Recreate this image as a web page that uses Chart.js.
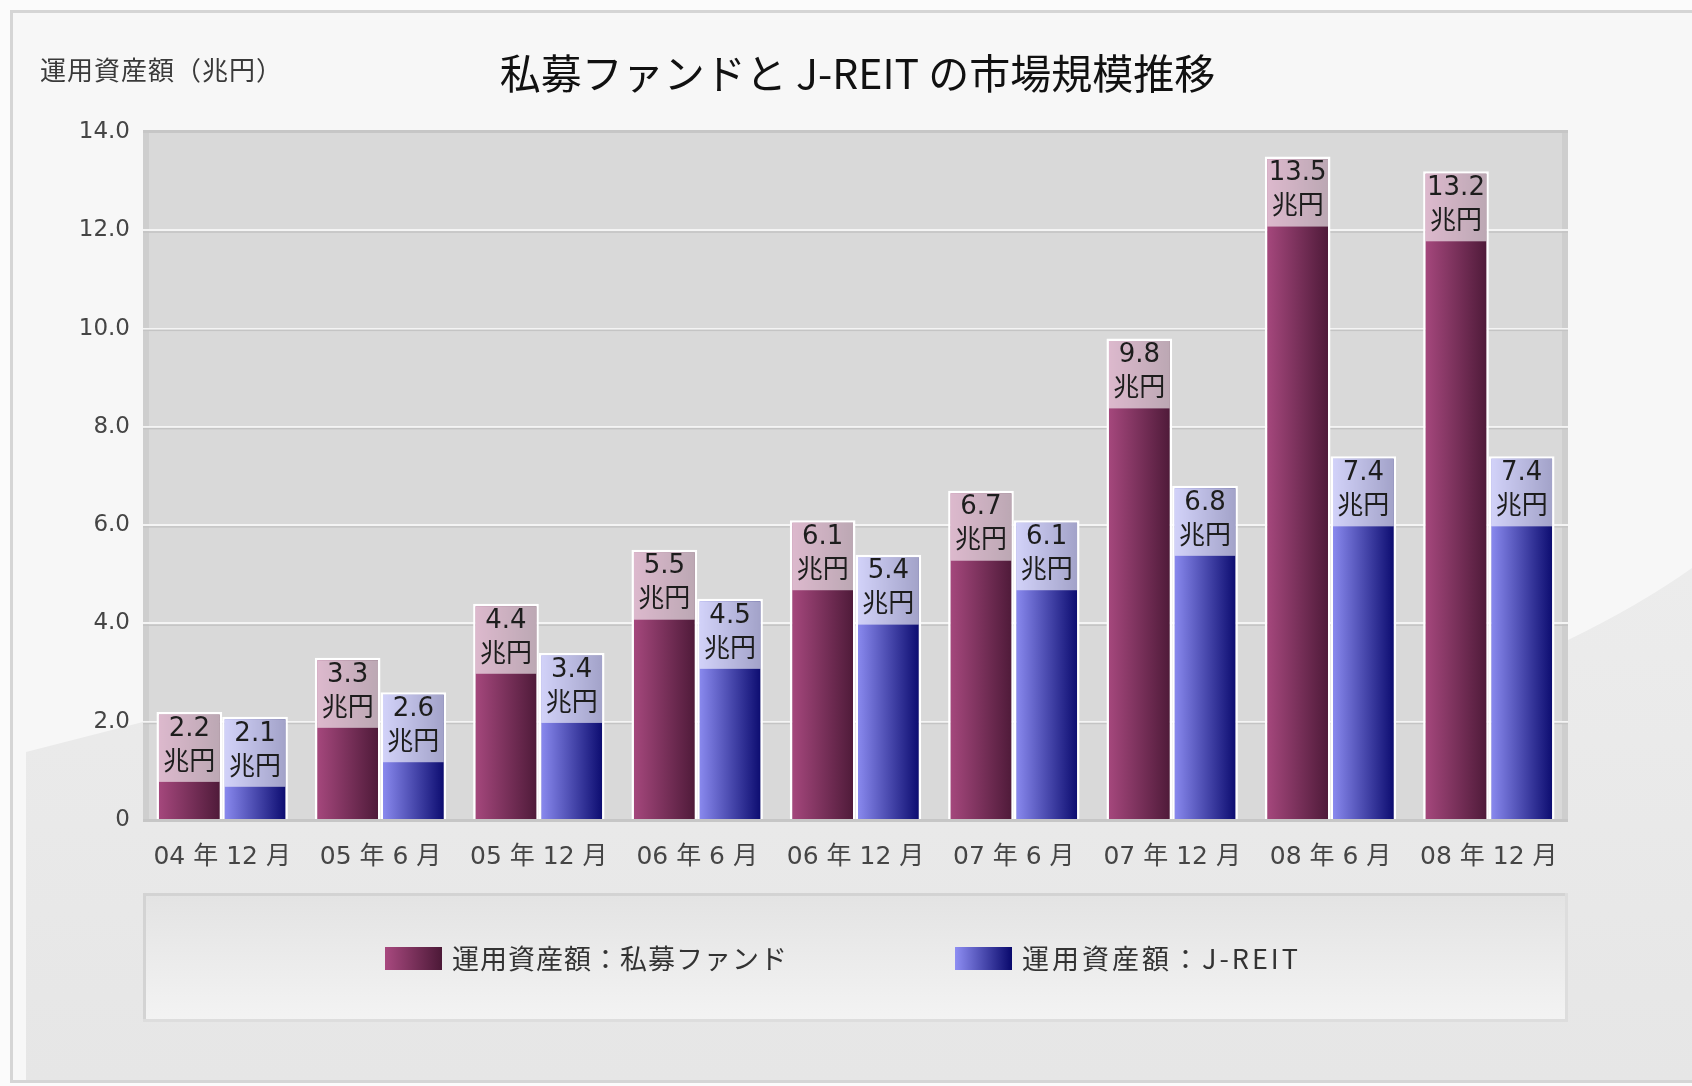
<!DOCTYPE html>
<html lang="ja">
<head>
<meta charset="UTF-8">
<title>私募ファンドとJ-REITの市場規模推移</title>
<script src="https://cdn.jsdelivr.net/npm/chart.js"></script>
<style>
    html, body { margin: 0; padding: 0; background: #fcfcfc; }
    canvas { display: block; }
</style>
</head>
<body>
<canvas id="marketChart" width="1692" height="1086"></canvas>
<script>
// data
const periods = ['04 年 12 月', '05 年 6 月', '05 年 12 月', '06 年 6 月', '06 年 12 月',
                 '07 年 6 月', '07 年 12 月', '08 年 6 月', '08 年 12 月'];
const privateFund = [2.2, 3.3, 4.4, 5.5, 6.1, 6.7, 9.8, 13.5, 13.2];
const jreit = [2.1, 2.6, 3.4, 4.5, 5.4, 6.1, 6.8, 7.4, 7.4];
const yTickLabels = ['0', '2.0', '4.0', '6.0', '8.0', '10.0', '12.0', '14.0'];
const seriesNames = ['運用資産額：私募ファンド', '運用資産額：J-REIT'];
const unit = '兆円';
const chartTitle = '私募ファンドと J-REIT の市場規模推移';
const axisTitle = '運用資産額（兆円）';

// left -> right shading of each bar
const barColors = [['#a8497f', '#4c1937'], ['#8e8ef3', '#08086c']];
const CAT_PCT = 0.83;
const LABEL_BOX = 70;
const FONT = '"DejaVu Sans", "Noto Sans CJK JP", sans-serif';
const JP_FONT = '"Noto Sans CJK JP", sans-serif';

function barFill(c) {
    const pair = barColors[c.datasetIndex];
    const xs = c.chart.scales.x;
    if (!xs || c.type !== 'data' || !(xs.width > 0)) return pair[0];
    const catW = xs.width / periods.length;
    const barW = catW * CAT_PCT / 2;
    const left = xs.getPixelForValue(c.dataIndex) - catW * CAT_PCT / 2 + c.datasetIndex * barW;
    if (!isFinite(left)) return pair[0];
    const g = c.chart.ctx.createLinearGradient(left, 0, left + barW, 0);
    g.addColorStop(0, pair[0]);
    g.addColorStop(1, pair[1]);
    return g;
}

// page background, frame, plot panel and legend box
const backdrop = {
    id: 'backdrop',
    beforeDraw(chart) {
        const ctx = chart.ctx;
        const a = chart.chartArea;
        ctx.save();
        ctx.fillStyle = '#fbfbfb';
        ctx.fillRect(0, 0, chart.width, chart.height);
        ctx.fillStyle = '#f7f7f7';
        ctx.fillRect(12, 12, chart.width, 1070);

        // grey sweep in the lower part
        const sweep = ctx.createLinearGradient(0, 570, 0, 1080);
        sweep.addColorStop(0, '#ececec');
        sweep.addColorStop(1, '#e6e6e6');
        ctx.fillStyle = sweep;
        ctx.beginPath();
        ctx.moveTo(26, 752);
        ctx.lineTo(a.left, 722);
        ctx.lineTo(a.right, 640);
        ctx.quadraticCurveTo(1640, 605, chart.width, 568);
        ctx.lineTo(chart.width, 1080);
        ctx.lineTo(26, 1080);
        ctx.closePath();
        ctx.fill();

        ctx.strokeStyle = '#d5d5d5';
        ctx.lineWidth = 3;
        ctx.strokeRect(11.5, 11.5, chart.width + 20, 1070);

        // plot panel
        ctx.fillStyle = '#d9d9d9';
        ctx.fillRect(a.left, a.top, a.right - a.left, a.bottom - a.top);
        ctx.fillStyle = '#cecece';
        ctx.fillRect(a.left, a.top, 6, a.bottom - a.top);
        ctx.fillRect(a.right - 6, a.top, 6, a.bottom - a.top);
        ctx.fillStyle = '#c6c6c6';
        ctx.fillRect(a.left, a.top - 2, a.right - a.left, 3);
        ctx.fillRect(a.left, a.bottom - 1, a.right - a.left, 3);

        // legend box
        const lg = ctx.createLinearGradient(0, 893, 0, 1022);
        lg.addColorStop(0, '#e3e3e3');
        lg.addColorStop(1, '#f3f3f3');
        ctx.fillStyle = lg;
        ctx.fillRect(a.left, 893, a.right - a.left, 129);
        ctx.fillStyle = '#d3d3d3';
        ctx.fillRect(a.left, 893, a.right - a.left, 3);
        ctx.fillRect(a.left, 893, 3, 129);
        ctx.fillStyle = '#dddddd';
        ctx.fillRect(a.left, 1019, a.right - a.left, 3);
        ctx.fillRect(a.right - 3, 893, 3, 129);
        ctx.restore();
    },
    beforeDatasetsDraw(chart) {
        // soft shadow under each grid line
        const ctx = chart.ctx;
        const a = chart.chartArea;
        const ys = chart.scales.y;
        ctx.save();
        ctx.fillStyle = '#c4c4c4';
        ys.ticks.forEach(t => {
            if (t.value <= ys.min || t.value >= ys.max) return;
            const y = ys.getPixelForValue(t.value);
            ctx.fillRect(a.left, y + 1, a.right - a.left, 1.5);
        });
        ctx.restore();
    }
};

// value boxes at the top of each bar
const valueLabels = {
    id: 'valueLabels',
    afterDatasetsDraw(chart) {
        const ctx = chart.ctx;
        ctx.save();
        chart.data.datasets.forEach((ds, di) => {
            chart.getDatasetMeta(di).data.forEach((bar, i) => {
                const p = bar.getProps(['x', 'y', 'width', 'base'], true);
                const bw = bar.options.borderWidth;
                const left = p.x - p.width / 2 + bw;
                const h = Math.min(LABEL_BOX, p.base - p.y);
                ctx.fillStyle = 'rgba(255, 255, 255, 0.62)';
                ctx.fillRect(left, p.y + bw, p.width - 2 * bw, h - bw);
                ctx.fillStyle = '#1d1d1d';
                ctx.textAlign = 'center';
                ctx.textBaseline = 'middle';
                ctx.font = '26px ' + FONT;
                ctx.fillText(ds.data[i].toFixed(1), p.x, p.y + 17);
                ctx.fillText(unit, p.x, p.y + 51);
            });
        });
        ctx.restore();
    }
};

// titles and legend
const decorations = {
    id: 'decorations',
    afterDraw(chart) {
        const ctx = chart.ctx;
        const a = chart.chartArea;
        ctx.save();
        ctx.fillStyle = '#111';
        ctx.textAlign = 'center';
        ctx.textBaseline = 'middle';
        ctx.font = '41px ' + JP_FONT;
        ctx.fillText(chartTitle, (a.left + a.right) / 2 + 2, 73);

        ctx.fillStyle = '#3a3a3a';
        ctx.textAlign = 'left';
        ctx.font = '26px ' + JP_FONT;
        ctx.letterSpacing = '1px';
        ctx.fillText(axisTitle, 40, 70);

        const starts = [385, 955];
        const spacing = ['1px', '3px'];
        ctx.font = '27px ' + JP_FONT;
        chart.data.datasets.forEach((ds, i) => {
            const x = starts[i];
            const g = ctx.createLinearGradient(x, 0, x + 57, 0);
            g.addColorStop(0, barColors[i][0]);
            g.addColorStop(1, barColors[i][1]);
            ctx.fillStyle = g;
            ctx.fillRect(x, 947, 57, 23);
            ctx.fillStyle = '#333';
            ctx.letterSpacing = spacing[i];
            ctx.fillText(ds.label, x + 67, 959);
        });
        ctx.restore();
    }
};

const barStyle = {
    backgroundColor: barFill,
    borderColor: '#ffffff',
    borderWidth: 2.5,
    categoryPercentage: CAT_PCT,
    barPercentage: 1.0
};

new Chart(document.getElementById('marketChart'), {
    type: 'bar',
    data: {
        labels: periods,
        datasets: [
            Object.assign({ label: seriesNames[0], data: privateFund }, barStyle),
            Object.assign({ label: seriesNames[1], data: jreit }, barStyle)
        ]
    },
    options: {
        responsive: false,
        animation: false,
        layout: { padding: { left: 0, right: 124, top: 132, bottom: 0 } },
        plugins: {
            colors: { enabled: false },
            legend: { display: false },
            title: { display: false },
            tooltip: { enabled: false }
        },
        scales: {
            x: {
                grid: { display: false, drawTicks: false },
                border: { display: false },
                ticks: {
                    color: '#454545',
                    font: { family: FONT, size: 25 },
                    padding: 22,
                    maxRotation: 0,
                    autoSkip: false
                },
                afterFit(scale) { scale.height = 266; }
            },
            y: {
                min: 0,
                max: 14,
                border: { display: false },
                grid: {
                    drawTicks: false,
                    lineWidth: 2,
                    color: c => (c.tick.value === 0 || c.tick.value === 14) ? 'rgba(0,0,0,0)' : '#f4f4f4'
                },
                ticks: {
                    stepSize: 2,
                    color: '#454545',
                    font: { family: FONT, size: 23 },
                    padding: 13,
                    callback: (v, i) => yTickLabels[i]
                },
                afterFit(scale) { scale.width = 143; }
            }
        }
    },
    plugins: [backdrop, valueLabels, decorations]
});
</script>
</body>
</html>
